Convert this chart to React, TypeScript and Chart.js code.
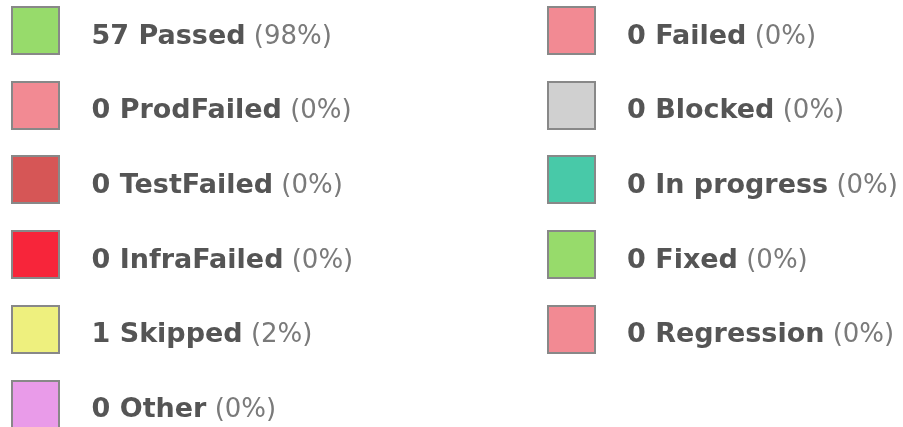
import React, { useEffect, useRef } from "react";
import { Chart, registerables } from "chart.js";

Chart.register(...registerables);

const labels = ["Passed", "Failed", "ProdFailed", "Blocked", "TestFailed", "In progress", "InfraFailed", "Fixed", "Skipped", "Regression", "Other"];
const counts = [57, 0, 0, 0, 0, 0, 0, 0, 1, 0, 0];
const colors = ["#97db6b", "#f28a93", "#f28a93", "#d0d0d0", "#d65656", "#48c9a8", "#f7253a", "#97db6b", "#eef07e", "#f28a93", "#e99be9"];

const legendPlugin = {
  id: "twoColLegend",
  afterDraw(chart: any) {
    const ctx = chart.ctx;
    const data = chart.data.datasets[0].data as number[];
    const bg = chart.data.datasets[0].backgroundColor as string[];
    const names = chart.data.labels as string[];
    const total = data.reduce((a, b) => a + b, 0);
    ctx.save();
    names.forEach((name, i) => {
      const col = i % 2;
      const row = Math.floor(i / 2);
      const bx = col ? 547 : 11;
      const by = 6 + Math.round(row * 74.7);
      ctx.fillStyle = bg[i];
      ctx.fillRect(bx, by, 49, 49);
      ctx.strokeStyle = "#888888";
      ctx.lineWidth = 2;
      ctx.strokeRect(bx + 1, by + 1, 47, 47);
      const tx = col ? 627 : 91.5;
      const ty = 43.5 + row * 74.7;
      ctx.textBaseline = "alphabetic";
      ctx.textAlign = "left";
      ctx.font = "bold 27px 'DejaVu Sans'";
      ctx.fillStyle = "#555555";
      const main = `${data[i]} ${name}`;
      ctx.fillText(main, tx, ty);
      const w = ctx.measureText(main).width;
      ctx.font = "26px 'DejaVu Sans'";
      ctx.fillStyle = "#7a7a7a";
      const pct = total ? Math.round((data[i] / total) * 100) : 0;
      ctx.fillText(` (${pct}%)`, tx + w, ty);
    });
    ctx.restore();
  },
};

export default function App() {
  const ref = useRef<HTMLCanvasElement>(null);
  useEffect(() => {
    if (!ref.current) return;
    const chart = new Chart(ref.current, {
      type: "doughnut",
      data: {
        labels,
        datasets: [{ data: counts, backgroundColor: colors, hidden: true } as any],
      },
      options: {
        animation: false,
        responsive: false,
        maintainAspectRatio: false,
        plugins: { legend: { display: false }, tooltip: { enabled: false } },
      },
      plugins: [legendPlugin],
    });
    return () => chart.destroy();
  }, []);
  return (
    <div style={{ position: "fixed", left: 0, top: 0, width: 903, height: 427, background: "#fff" }}>
      <canvas ref={ref} width={903} height={427} style={{ display: "block" }} />
    </div>
  );
}
